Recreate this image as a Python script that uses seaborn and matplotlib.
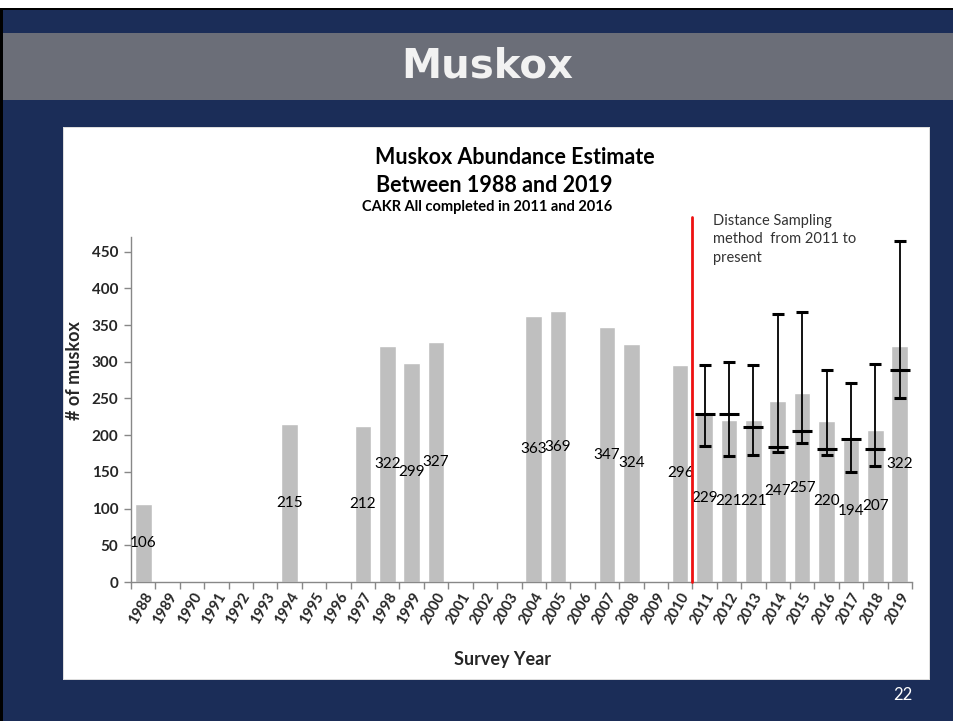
import matplotlib
matplotlib.use("Agg")
import matplotlib.pyplot as plt
from matplotlib.patches import Rectangle
import seaborn as sns
import pandas as pd

# === DATA ===
all_years = [str(y) for y in range(1988, 2020)]
survey_years = ["1988", "1994", "1997", "1998", "1999", "2000", "2004", "2005",
                "2007", "2008", "2010", "2011", "2012", "2013", "2014", "2015",
                "2016", "2017", "2018", "2019"]
muskox_counts = [106, 215, 212, 322, 299, 327, 363, 369, 347, 324, 296,
                 229, 221, 221, 247, 257, 220, 194, 207, 322]

# distance sampling estimates (2011 onward): point estimate and CI
ds_years = ["2011", "2012", "2013", "2014", "2015", "2016", "2017", "2018", "2019"]
ds_estimate = [229, 229, 211, 184, 206, 181, 195, 181, 289]
ds_low = [185, 171, 173, 177, 190, 173, 150, 158, 251]
ds_high = [296, 300, 295, 365, 368, 289, 271, 297, 464]

NAVY = "#1b2d58"
BANNER = "#6b6e78"
BAR = "#bfbfbf"
FONT = ["Lato", "DejaVu Sans"]

df = pd.DataFrame({"year": survey_years, "count": muskox_counts})

sns.set_theme(style="white")
plt.rcParams["font.family"] = FONT

W, H = 954, 721
fig = plt.figure(figsize=(W / 100, H / 100), dpi=100, facecolor=NAVY)


def px_rect(x0, y0, x1, y1, color):
    fig.patches.append(Rectangle((x0 / W, 1 - y1 / H), (x1 - x0) / W, (y1 - y0) / H,
                                 transform=fig.transFigure, facecolor=color,
                                 edgecolor="none", zorder=-10))


# slide background pieces
px_rect(0, 0, W, 8, "white")
px_rect(0, 8, W, 10, "black")
px_rect(0, 8, 3, H, "black")
px_rect(3, 33, W, 100, BANNER)
px_rect(63, 127, 930, 680, "#dddddd")
px_rect(64, 128, 929, 679, "white")
fig.text(487 / W, 1 - 67 / H, "Muskox", color="#f2f2f2", fontsize=29,
         fontweight="bold", ha="center", va="center", family="DejaVu Sans")
fig.text(903 / W, 1 - 695 / H, "22", color="white", fontsize=12,
         ha="center", va="center")

# chart titles
fig.text(515 / W, 1 - 157 / H, "Muskox Abundance Estimate", fontsize=15.5,
         fontweight="bold", ha="center", va="center", color="black")
fig.text(494 / W, 1 - 185 / H, "Between 1988 and 2019", fontsize=15.5,
         fontweight="bold", ha="center", va="center", color="black")
fig.text(487 / W, 1 - 207 / H, "CAKR All completed in 2011 and 2016", fontsize=10.5,
         fontweight="bold", ha="center", va="center", color="black")

ax = fig.add_axes([131 / W, 1 - 582 / H, (912 - 131) / W, (582 - 237) / H])
ax.set_facecolor("none")

sns.barplot(data=df, x="year", y="count", order=all_years, color=BAR,
            width=0.68, saturation=1, ax=ax, zorder=2)

# data labels centered in each bar
for yr, v in zip(survey_years, muskox_counts):
    ax.text(all_years.index(yr), v / 2, str(v), ha="center", va="center",
            fontsize=11, color="black", zorder=4)

# distance sampling error bars
xs = [all_years.index(y) for y in ds_years]
yerr = [[e - lo for e, lo in zip(ds_estimate, ds_low)],
        [hi - e for e, hi in zip(ds_estimate, ds_high)]]
ax.errorbar(xs, ds_estimate, yerr=yerr, fmt="_", color="black", markersize=15,
            markeredgewidth=2.2, elinewidth=1.3, capsize=4, capthick=1.5, zorder=5)

# method change line
ax.plot([all_years.index("2010") + 0.5] * 2, [0, 497], color="#ee1111", lw=2,
        clip_on=False, zorder=6)
ax.text(all_years.index("2011") + 0.35, 502,
        "Distance Sampling\nmethod  from 2011 to\npresent", fontsize=10.5,
        color="#333333", ha="left", va="top", linespacing=1.45)

ax.set_xlim(-0.5, len(all_years) - 0.5)
ax.set_ylim(0, 470)
ax.set_yticks(range(0, 451, 50))
ax.set_xticks(range(len(all_years)))
ax.set_xticklabels(all_years, rotation=60, ha="right", rotation_mode="anchor",
                   fontsize=10.5, fontweight="bold")
for lbl in ax.get_yticklabels():
    lbl.set_fontweight("bold")
    lbl.set_fontsize(11)

# Excel style: x tick marks between categories
ax.set_xticks([i - 0.5 for i in range(len(all_years) + 1)], minor=True)
ax.tick_params(axis="x", which="major", length=0, pad=6)
ax.tick_params(axis="x", which="minor", length=5, color="#888888", width=1,
               direction="out", bottom=True)
ax.tick_params(axis="y", length=5, color="#888888", width=1, direction="out",
               left=True, pad=4)

sns.despine(ax=ax, top=True, right=True)
for side in ["left", "bottom"]:
    ax.spines[side].set_color("#888888")
    ax.spines[side].set_linewidth(1)

ax.set_xlabel("Survey Year", fontsize=13, fontweight="bold")
ax.set_ylabel("# of muskox", fontsize=13, fontweight="bold")
ax.xaxis.set_label_coords(0.476, -0.2)
ax.yaxis.set_label_coords(-0.062, 0.614)

fig.savefig("out.png", dpi=100, facecolor=NAVY)
